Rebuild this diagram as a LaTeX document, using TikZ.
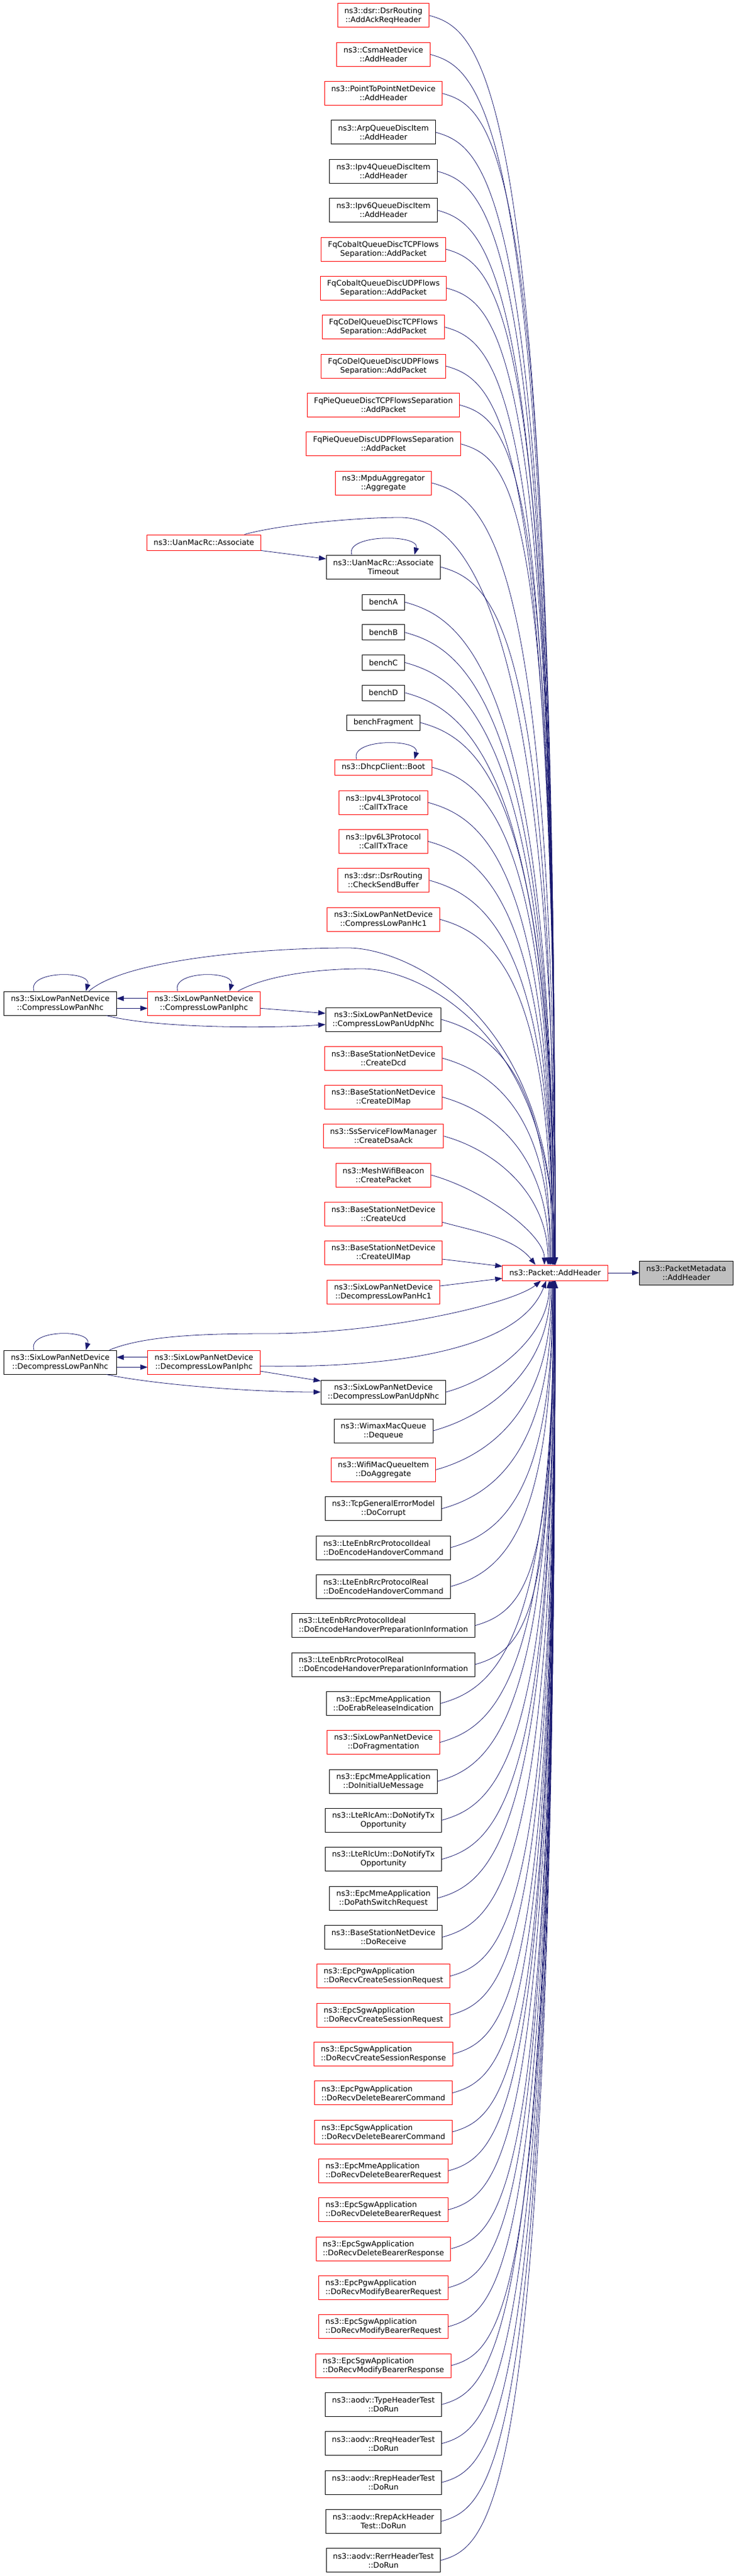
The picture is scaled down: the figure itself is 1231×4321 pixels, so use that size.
\documentclass[tikz,border=0pt]{standalone}
\usepackage{fontspec}
\usepackage{tikz}
\usetikzlibrary{arrows.meta}
\usetikzlibrary{calc}
\newfontfamily\graphfont{DejaVu Sans}
\definecolor{callblue}{HTML}{191970}
\definecolor{nodered}{HTML}{FF0000}
\definecolor{focusgray}{HTML}{BFBFBF}
\tikzset{fn/.style = {draw, fill=white, line width=0.75pt, font=\graphfont\fontsize{9.6}{11.25}\selectfont, align=center, inner xsep=8.5pt, inner ysep=0pt, minimum height=30pt}}
\tikzset{fnred/.style = {fn, draw=nodered}}
\tikzset{oneline/.style = {minimum height=19.5pt}}
\tikzset{lft/.style = {align=left}}
\tikzset{call/.style = {draw=callblue, line width=0.6pt, -{Triangle[length=9pt, width=6.5pt]}}}

\begin{document}
\begin{tikzpicture}[x=0.75pt, y=-0.75pt]
    \useasboundingbox (0, 0) rectangle (1231, 4321);

    % callers, top part
    \node [fnred] (dsrack) at (643, 26) {ns3::dsr::DsrRouting\\::AddAckReqHeader};
    \node [fnred] (csma) at (643, 91.3) {ns3::CsmaNetDevice\\::AddHeader};
    \node [fnred] (ptp) at (643, 156.7) {ns3::PointToPointNetDevice\\::AddHeader};
    \node [fn] (arpq) at (643, 222) {ns3::ArpQueueDiscItem\\::AddHeader};
    \node [fn] (ipv4q) at (643, 287.3) {ns3::Ipv4QueueDiscItem\\::AddHeader};
    \node [fn] (ipv6q) at (643, 352.7) {ns3::Ipv6QueueDiscItem\\::AddHeader};
    \node [fnred] (cobalttcp) at (643, 418) {FqCobaltQueueDiscTCPFlows\\Separation::AddPacket};
    \node [fnred] (cobaltudp) at (643, 483.3) {FqCobaltQueueDiscUDPFlows\\Separation::AddPacket};
    \node [fnred] (codeltcp) at (643, 548.7) {FqCoDelQueueDiscTCPFlows\\Separation::AddPacket};
    \node [fnred] (codeludp) at (643, 614) {FqCoDelQueueDiscUDPFlows\\Separation::AddPacket};
    \node [fnred] (pietcp) at (643, 679.3) {FqPieQueueDiscTCPFlowsSeparation\\::AddPacket};
    \node [fnred] (pieudp) at (643, 744.7) {FqPieQueueDiscUDPFlowsSeparation\\::AddPacket};
    \node [fnred] (mpdu) at (643, 810) {ns3::MpduAggregator\\::Aggregate};
    \node [fnred, oneline] (assoc) at (342, 910) {ns3::UanMacRc::Associate};
    \node [fn] (assoctimeout) at (643, 951) {ns3::UanMacRc::Associate\\Timeout};
    \node [fn, oneline] (bencha) at (643, 1010) {benchA};
    \node [fn, oneline] (benchb) at (643, 1060.7) {benchB};
    \node [fn, oneline] (benchc) at (643, 1111.3) {benchC};
    \node [fn, oneline] (benchd) at (643, 1162) {benchD};
    \node [fn, oneline] (benchfrag) at (643, 1212) {benchFragment};
    \node [fnred, oneline] (boot) at (643, 1287) {ns3::DhcpClient::Boot};
    \node [fnred] (ipv4tx) at (643, 1346) {ns3::Ipv4L3Protocol\\::CallTxTrace};
    \node [fnred] (ipv6tx) at (643, 1411.3) {ns3::Ipv6L3Protocol\\::CallTxTrace};
    \node [fnred] (dsrbuf) at (643, 1476.7) {ns3::dsr::DsrRouting\\::CheckSendBuffer};
    \node [fnred] (comphc1) at (643, 1542) {ns3::SixLowPanNetDevice\\::CompressLowPanHc1};
    \node [fn] (compnhc) at (101, 1683) {ns3::SixLowPanNetDevice\\::CompressLowPanNhc};
    \node [fnred] (compiphc) at (342, 1683) {ns3::SixLowPanNetDevice\\::CompressLowPanIphc};
    \node [fn] (compudp) at (643, 1710) {ns3::SixLowPanNetDevice\\::CompressLowPanUdpNhc};
    \node [fnred] (dcd) at (643, 1775) {ns3::BaseStationNetDevice\\::CreateDcd};
    \node [fnred] (dlmap) at (643, 1840.3) {ns3::BaseStationNetDevice\\::CreateDlMap};
    \node [fnred] (dsaack) at (643, 1905.7) {ns3::SsServiceFlowManager\\::CreateDsaAck};
    \node [fnred] (beacon) at (643, 1971) {ns3::MeshWifiBeacon\\::CreatePacket};
    \node [fnred] (ucd) at (643, 2036.3) {ns3::BaseStationNetDevice\\::CreateUcd};
    \node [fnred] (ulmap) at (643, 2101.7) {ns3::BaseStationNetDevice\\::CreateUlMap};
    \node [fnred] (dechc1) at (643, 2167) {ns3::SixLowPanNetDevice\\::DecompressLowPanHc1};

    % the function and its callee
    \node [fnred, oneline] (ph) at (931, 2135) {ns3::Packet::AddHeader};
    \node [fn, fill=focusgray] (pm) at (1151, 2135) {ns3::PacketMetadata\\::AddHeader};

    % callers, bottom part
    \node [fn] (decnhc) at (101, 2285) {ns3::SixLowPanNetDevice\\::DecompressLowPanNhc};
    \node [fnred] (deciphc) at (342, 2285) {ns3::SixLowPanNetDevice\\::DecompressLowPanIphc};
    \node [fn] (decudp) at (643, 2335) {ns3::SixLowPanNetDevice\\::DecompressLowPanUdpNhc};
    \node [fn] (dequeue) at (643, 2400) {ns3::WimaxMacQueue\\::Dequeue};
    \node [fnred] (doaggr) at (643, 2465.3) {ns3::WifiMacQueueItem\\::DoAggregate};
    \node [fn] (docorrupt) at (643, 2530.7) {ns3::TcpGeneralErrorModel\\::DoCorrupt};
    \node [fn, lft] (hoidcmd) at (643, 2596) {ns3::LteEnbRrcProtocolIdeal\\::DoEncodeHandoverCommand};
    \node [fn, lft] (horealcmd) at (643, 2661.3) {ns3::LteEnbRrcProtocolReal\\::DoEncodeHandoverCommand};
    \node [fn, lft] (hoidprep) at (643, 2726.7) {ns3::LteEnbRrcProtocolIdeal\\::DoEncodeHandoverPreparationInformation};
    \node [fn, lft] (horealprep) at (643, 2792) {ns3::LteEnbRrcProtocolReal\\::DoEncodeHandoverPreparationInformation};
    \node [fn] (erabrel) at (643, 2857.3) {ns3::EpcMmeApplication\\::DoErabReleaseIndication};
    \node [fnred] (dofrag) at (643, 2922.7) {ns3::SixLowPanNetDevice\\::DoFragmentation};
    \node [fn] (initue) at (643, 2988) {ns3::EpcMmeApplication\\::DoInitialUeMessage};
    \node [fn] (rlcam) at (643, 3053.3) {ns3::LteRlcAm::DoNotifyTx\\Opportunity};
    \node [fn] (rlcum) at (643, 3118.7) {ns3::LteRlcUm::DoNotifyTx\\Opportunity};
    \node [fn] (pathsw) at (643, 3184) {ns3::EpcMmeApplication\\::DoPathSwitchRequest};
    \node [fn] (bsrecv) at (643, 3249.3) {ns3::BaseStationNetDevice\\::DoReceive};
    \node [fnred, lft] (pgwcsreq) at (643, 3314.7) {ns3::EpcPgwApplication\\::DoRecvCreateSessionRequest};
    \node [fnred, lft] (sgwcsreq) at (643, 3380) {ns3::EpcSgwApplication\\::DoRecvCreateSessionRequest};
    \node [fnred, lft] (sgwcsresp) at (643, 3445.3) {ns3::EpcSgwApplication\\::DoRecvCreateSessionResponse};
    \node [fnred, lft] (pgwdbcmd) at (643, 3510.7) {ns3::EpcPgwApplication\\::DoRecvDeleteBearerCommand};
    \node [fnred, lft] (sgwdbcmd) at (643, 3576) {ns3::EpcSgwApplication\\::DoRecvDeleteBearerCommand};
    \node [fnred, lft] (mmedbreq) at (643, 3641.3) {ns3::EpcMmeApplication\\::DoRecvDeleteBearerRequest};
    \node [fnred, lft] (sgwdbreq) at (643, 3706.7) {ns3::EpcSgwApplication\\::DoRecvDeleteBearerRequest};
    \node [fnred, lft] (sgwdbresp) at (643, 3772) {ns3::EpcSgwApplication\\::DoRecvDeleteBearerResponse};
    \node [fnred, lft] (pgwmbreq) at (643, 3837.3) {ns3::EpcPgwApplication\\::DoRecvModifyBearerRequest};
    \node [fnred, lft] (sgwmbreq) at (643, 3902.7) {ns3::EpcSgwApplication\\::DoRecvModifyBearerRequest};
    \node [fnred, lft] (sgwmbresp) at (643, 3968) {ns3::EpcSgwApplication\\::DoRecvModifyBearerResponse};
    \node [fn] (aodvtype) at (643, 4033.3) {ns3::aodv::TypeHeaderTest\\::DoRun};
    \node [fn] (aodvrreq) at (643, 4098.7) {ns3::aodv::RreqHeaderTest\\::DoRun};
    \node [fn] (aodvrrep) at (643, 4164) {ns3::aodv::RrepHeaderTest\\::DoRun};
    \node [fn] (aodvrrepack) at (643, 4229.3) {ns3::aodv::RrepAckHeader\\Test::DoRun};
    \node [fn] (aodvrerr) at (643, 4294.7) {ns3::aodv::RerrHeaderTest\\::DoRun};

    % calls coming down into the top of the box
    \foreach \c/\dx in {dsrack/0, csma/0, ptp/0, arpq/0, ipv4q/0, ipv6q/0, cobalttcp/0, cobaltudp/0, codeltcp/0, codeludp/0, pietcp/0, pieudp/0, mpdu/0, assoctimeout/-2, bencha/-2, benchb/-2, benchc/-2, benchd/-2, benchfrag/-2, boot/-4, ipv4tx/-4, ipv6tx/-4, dsrbuf/-4, comphc1/-6, compudp/-8, dcd/-8, dlmap/-10, dsaack/-12, beacon/-18}
        \draw [call] (\c.east) .. controls +(90, 25) and ($(ph.north |- \c.east)+(\dx, 100)$) .. ($(ph.north)+(\dx, 0)$);

    % calls coming up into the bottom of the box
    \foreach \c/\dx in {decudp/-10, dequeue/-8, doaggr/-6, docorrupt/-5, hoidcmd/-4, horealcmd/-4, hoidprep/-3, horealprep/-3, erabrel/-2, dofrag/-2, initue/-2, rlcam/-1, rlcum/-1, pathsw/-1, bsrecv/0, pgwcsreq/0, sgwcsreq/0, sgwcsresp/0, pgwdbcmd/0, sgwdbcmd/0, mmedbreq/0, sgwdbreq/0, sgwdbresp/0, pgwmbreq/0, sgwmbreq/0, sgwmbresp/0, aodvtype/0, aodvrreq/0, aodvrrep/0, aodvrrepack/0, aodvrerr/0}
        \draw [call] (\c.east) .. controls +(90, -25) and ($(ph.south |- \c.east)+(\dx, -100)$) .. ($(ph.south)+(\dx, 0)$);

    % the near ones
    \draw [call] (ucd.-8) .. controls +(55, 15) and +(-35, -45) .. ($(ph.north)+(-33, 0)$);
    \draw [call] (ulmap.-6) -- (ph.173);
    \draw [call] (dechc1.6) -- (ph.186);
    \draw [call] (ph) -- (pm);

    % associate
    \coordinate (assocapex) at (671, 868);
    \draw [call] ($(assoc.north)+(68, 0)$) .. controls +(60, -17) and +(-71, 0) .. (assocapex) .. controls +(90, 0) and ($(ph.north |- assocapex)+(0, 100)$) .. (ph.north);
    \draw [call] (assoc.south east) -- (assoctimeout.172);
    \draw [call] ($(assoctimeout.north)+(-53, 0)$) .. controls +(-12, -35) and +(10, -35) .. ($(assoctimeout.north)+(52, 0)$);
    \draw [call] ($(boot.north)+(-45, 0)$) .. controls +(-12, -35) and +(10, -35) .. ($(boot.north)+(52, 0)$);

    % compress chain
    \draw [call] ($(compnhc.north)+(-44, 0)$) .. controls +(-12, -35) and +(10, -35) .. ($(compnhc.north)+(43, 0)$);
    \draw [call] ($(compiphc.north)+(-44, 0)$) .. controls +(-12, -35) and +(10, -35) .. ($(compiphc.north)+(43, 0)$);
    \draw [call] (compiphc.175) -- (compnhc.5);
    \draw [call] (compnhc.-5) -- (compiphc.185);
    \draw [call] (compiphc.-5) -- (compudp.174);
    \draw [call] ($(compnhc.south east)+(-17, 0)$) .. controls +(80, 21) and +(-95, 7) .. (compudp.185);
    \coordinate (nhcapex) at (584, 1590);
    \draw [call] ($(compnhc.north)+(48, 0)$) .. controls +(61, -53) and +(-144, 0) .. (nhcapex) .. controls +(90, 0) and ($(ph.north |- nhcapex)+(-1, 100)$) .. ($(ph.north)+(-1, 0)$);
    \coordinate (iphcapex) at (608, 1625);
    \draw [call] ($(compiphc.north)+(57, 0)$) .. controls +(51, -28) and +(-68, 0) .. (iphcapex) .. controls +(90, 0) and ($(ph.north |- iphcapex)+(-1, 100)$) .. ($(ph.north)+(-1, 0)$);

    % decompress chain
    \draw [call] ($(decnhc.north)+(-44, 0)$) .. controls +(-12, -35) and +(10, -35) .. ($(decnhc.north)+(43, 0)$);
    \draw [call] (deciphc.175) -- (decnhc.5);
    \draw [call] (decnhc.-5) -- (deciphc.185);
    \draw [call] (deciphc.-9) -- (decudp.170);
    \draw [call] ($(decnhc.south east)+(-17, 0)$) .. controls +(80, 17) and +(-117, 0) .. (decudp.west);
    \coordinate (decapex) at (450, 2237);
    \draw [call] ($(decnhc.north east)+(-12, 0)$) .. controls +(60, -25) and +(-100, 0) .. (decapex) .. controls +(200, 0) and +(-45, 37) .. ($(ph.south)+(-24, 0)$);
    \draw [call] (deciphc.-4) .. controls +(210, 3) and +(-46, 120) .. ($(ph.south)+(-15, 0)$);

  \end{tikzpicture}
\end{document}
